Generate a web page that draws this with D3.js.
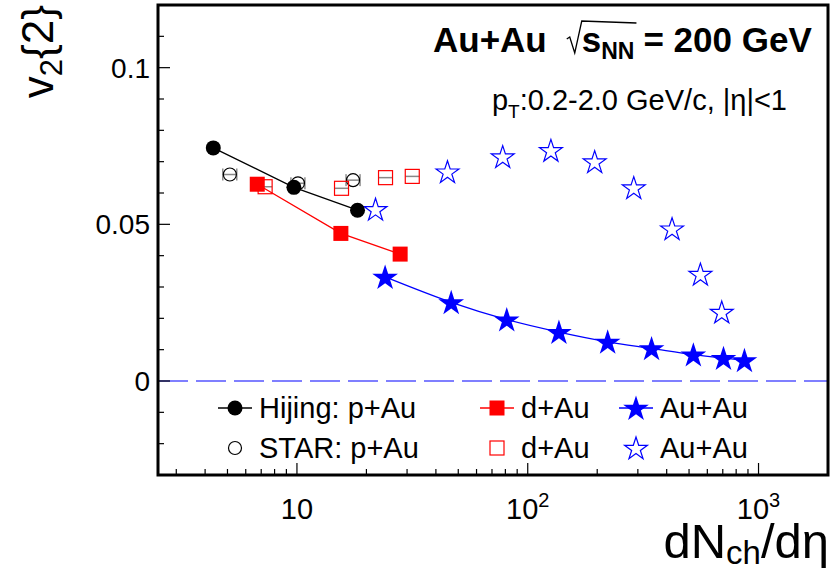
<!DOCTYPE html>
<html>
<head>
<meta charset="utf-8">
<script src="https://cdn.jsdelivr.net/npm/d3@7"></script>
<style>
  body { margin: 0; background: #fff; }
  text { font-family: "Liberation Sans", Arial, Helvetica, sans-serif; }
</style>
</head>
<body>
<div id="chart"></div>
<script>

// DATA  - - - - - - - - - - - - - - - - - - - - - - - - - - - - - - - - - - - - - - - - - - - -
// Hijing p+Au (filled circles, joined)
var hijingPAu_x = [4.34, 9.7, 18.3]
var hijingPAu_y = [0.0744, 0.0618, 0.0545]

// STAR p+Au (open circles)
var starPAu_x = [5.12, 10.1, 17.5]
var starPAu_y = [0.0659, 0.0631, 0.0641]

// Hijing d+Au (filled squares, joined)
var hijingDAu_x = [6.73, 15.5, 28.0]
var hijingDAu_y = [0.0628, 0.0471, 0.0405]

// STAR d+Au (open squares)
var starDAu_x = [7.28, 15.6, 24.2, 31.6]
var starDAu_y = [0.0620, 0.0615, 0.0649, 0.0653]

// Hijing Au+Au (filled stars, smooth curve)
var hijingAuAu_x = [24.1, 46.6, 81.1, 136.5, 222, 344, 522, 705, 869]
var hijingAuAu_y = [0.0332, 0.0251, 0.0196, 0.0156, 0.0125, 0.0104, 0.0084, 0.0073, 0.0066]

// STAR Au+Au (open stars)
var starAuAu_x = [21.9, 44.9, 77.9, 126, 195, 288, 422, 560, 693]
var starAuAu_y = [0.0548, 0.0668, 0.0716, 0.0736, 0.0700, 0.0617, 0.0486, 0.0341, 0.0220]

// Axis ticks
var yMajorTicks = [0, 0.05, 0.1]
var yTickLabels = ["0", "0.05", "0.1"]
var xMajorTicks = [10, 100, 1000]
var xTickExponents = ["", "2", "3"]

// Legend entries
var legendLabels = ["Hijing: p+Au", "d+Au", "Au+Au", "STAR: p+Au", "d+Au", "Au+Au"]

// SVG Canvas - - - - - - - - - - - - - - - - - - - - - - - - - - - - - - - - - - - - - - - - -
var svgWidth = 832
  , svgHeight = 573
  , frame = {left: 158, right: 828, top: 5, bottom: 475}

var svg = d3.select("#chart").append("svg")
    .attr("width", svgWidth)
    .attr("height", svgHeight)

var x = d3.scaleLog()
    .domain([2.5, 2000])
    .range([frame.left, frame.right])

var y = d3.scaleLinear()
    .domain([-0.03, 0.12])
    .range([frame.bottom, frame.top])

var BLUE = "#0000ff", RED = "#ff0000"

// zero line
svg.append("line")
    .attr("x1", frame.left).attr("x2", frame.right)
    .attr("y1", y(0)).attr("y2", y(0))
    .attr("stroke", BLUE)
    .attr("stroke-width", 1.2)
    .attr("stroke-dasharray", "30,8")

// Marker helpers - - - - - - - - - - - - - - - - - - - - - - - - - - - - - - - - - - - - - - -
var starPath = function(r) {
    return d3.symbol().type(d3.symbolStar).size(r * r / 0.8908)()
}

function drawMarker(g, type, cx, cy) {
    if (type == "fcircle") {
        g.append("circle").attr("cx", cx).attr("cy", cy).attr("r", 7.5).attr("fill", "#000")
    } else if (type == "ocircle") {
        g.append("circle").attr("cx", cx).attr("cy", cy).attr("r", 6.5)
            .attr("fill", "none").attr("stroke", "#000").attr("stroke-width", 1.2)
    } else if (type == "fsquare") {
        g.append("rect").attr("x", cx - 7.5).attr("y", cy - 7.5).attr("width", 15).attr("height", 15)
            .attr("fill", RED)
    } else if (type == "osquare") {
        g.append("rect").attr("x", cx - 7).attr("y", cy - 7).attr("width", 14).attr("height", 14)
            .attr("fill", "none").attr("stroke", RED).attr("stroke-width", 1.2)
    } else if (type == "fstar") {
        g.append("path").attr("d", starPath(13.5)).attr("transform", "translate(" + cx + "," + (cy + 1) + ")")
            .attr("fill", BLUE)
    } else if (type == "ostar") {
        g.append("path").attr("d", starPath(12)).attr("transform", "translate(" + cx + "," + (cy + 1) + ")")
            .attr("fill", "none").attr("stroke", BLUE).attr("stroke-width", 1.2)
    }
}

// small gray systematic bars on the STAR points
function drawSyst(g, cx, cy, half, caps) {
    g.append("line").attr("x1", cx - half).attr("x2", cx + half).attr("y1", cy).attr("y2", cy)
        .attr("stroke", "#888").attr("stroke-width", 1.5)
    if (caps) {
        [-1, 1].forEach(function(s) {
            g.append("line").attr("x1", cx + s * (half + 1)).attr("x2", cx + s * (half + 1))
                .attr("y1", cy - 6).attr("y2", cy + 6)
                .attr("stroke", "#555").attr("stroke-width", 1)
        })
    }
}

function zipPts(xs, ys) {
    return xs.map(function(d, i) { return [d, ys[i]] })
}

// Series - - - - - - - - - - - - - - - - - - - - - - - - - - - - - - - - - - - - - - - - - - -
var series = [
    {pts: zipPts(hijingPAu_x, hijingPAu_y), marker: "fcircle", line: "#000", curve: d3.curveLinear},
    {pts: zipPts(hijingDAu_x, hijingDAu_y), marker: "fsquare", line: RED, curve: d3.curveLinear},
    {pts: zipPts(hijingAuAu_x, hijingAuAu_y), marker: "fstar", line: BLUE, curve: d3.curveCatmullRom},
    {pts: zipPts(starPAu_x, starPAu_y), marker: "ocircle", syst: 6, caps: true},
    {pts: zipPts(starDAu_x, starDAu_y), marker: "osquare", syst: 7, caps: false},
    {pts: zipPts(starAuAu_x, starAuAu_y), marker: "ostar"}
]

var plot = svg.append("g")

series.forEach(function(s) {
    if (s.line) {
        var lineGen = d3.line()
            .x(function(d) { return x(d[0]) })
            .y(function(d) { return y(d[1]) })
            .curve(s.curve)
        plot.append("path").datum(s.pts)
            .attr("d", lineGen)
            .attr("fill", "none")
            .attr("stroke", s.line)
            .attr("stroke-width", 1.3)
    }
})

// draw STAR markers first, then Hijing on top
;[3, 4, 5, 0, 1, 2].forEach(function(k) {
    var s = series[k]
    s.pts.forEach(function(p) {
        if (s.syst) drawSyst(plot, x(p[0]), y(p[1]), s.syst, s.caps)
        drawMarker(plot, s.marker, x(p[0]), y(p[1]))
    })
})

// Axes - - - - - - - - - - - - - - - - - - - - - - - - - - - - - - - - - - - - - - - - - - - -
var axes = svg.append("g")

// y ticks (inside, on left frame)
d3.range(-0.03, 0.1201, 0.01).forEach(function(v) {
    var isMajor = Math.abs(v / 0.05 - Math.round(v / 0.05)) < 1e-6
    axes.append("line")
        .attr("x1", frame.left).attr("x2", frame.left + (isMajor ? 12 : 6))
        .attr("y1", y(v)).attr("y2", y(v))
        .attr("stroke", "#000").attr("stroke-width", 1.2)
})
yMajorTicks.forEach(function(v, i) {
    axes.append("text")
        .attr("x", frame.left - 8).attr("y", y(v))
        .attr("dy", "0.36em")
        .attr("text-anchor", "end")
        .attr("font-size", 28)
        .text(yTickLabels[i])
})

// x ticks (inside, on bottom frame)
var xMinor = []
;[1, 10, 100, 1000].forEach(function(dec) {
    d3.range(1, 10).forEach(function(m) {
        var v = dec * m
        if (v >= 2.5 && v <= 2000) xMinor.push(v)
    })
})
xMinor.forEach(function(v) {
    var isMajor = xMajorTicks.indexOf(v) >= 0
    axes.append("line")
        .attr("x1", x(v)).attr("x2", x(v))
        .attr("y1", frame.bottom).attr("y2", frame.bottom - (isMajor ? 12 : 6))
        .attr("stroke", "#000").attr("stroke-width", 1.2)
})
xMajorTicks.forEach(function(v, i) {
    var t = axes.append("text")
        .attr("x", x(v)).attr("y", 519)
        .attr("text-anchor", "middle")
        .attr("font-size", 29)
    t.append("tspan").text("10")
    if (xTickExponents[i]) {
        t.append("tspan").attr("dy", -12).attr("font-size", 20).text(xTickExponents[i])
    }
})

// frame
svg.append("rect")
    .attr("x", frame.left).attr("y", frame.top)
    .attr("width", frame.right - frame.left).attr("height", frame.bottom - frame.top)
    .attr("fill", "none").attr("stroke", "#000").attr("stroke-width", 3)

// axis titles
var yTitle = svg.append("text")
    .attr("transform", "translate(53,5) rotate(-90)")
    .attr("text-anchor", "end")
    .attr("font-size", 44)
yTitle.append("tspan").text("v")
yTitle.append("tspan").attr("dy", 9).attr("font-size", 31).text("2")
yTitle.append("tspan").attr("dy", -9).text("{2}")

var xTitle = svg.append("text")
    .attr("x", 829).attr("y", 558)
    .attr("text-anchor", "end")
    .attr("font-size", 49)
xTitle.append("tspan").text("dN")
xTitle.append("tspan").attr("dy", 6).attr("font-size", 33).text("ch")
xTitle.append("tspan").attr("dy", -6).text("/d\u03b7")

// Labels - - - - - - - - - - - - - - - - - - - - - - - - - - - - - - - - - - - - - - - - - - -
// title: Au+Au  sqrt(s_NN) = 200 GeV, pieces chained by measured width
var titleSize = 35, titleBase = 52
var title = svg.append("g").attr("font-weight", "bold")
var t1 = title.append("text").attr("x", 433).attr("y", titleBase).attr("font-size", titleSize).text("Au+Au")
var rx = 433 + t1.node().getComputedTextLength() + 20
var sText = title.append("text").attr("x", rx + 15).attr("y", titleBase).attr("font-size", titleSize)
sText.append("tspan").text("s")
sText.append("tspan").attr("dy", 7).attr("font-size", 23).text("NN")
var sEnd = rx + 15 + sText.node().getComputedTextLength()
title.append("path")
    .attr("d", "M" + rx + "," + (titleBase - 13) + " l3,-2 l5,16 l7,-32 L" + (sEnd + 2) + "," + (titleBase - 29))
    .attr("fill", "none").attr("stroke", "#000").attr("stroke-width", 1.3)
title.append("text").attr("x", sEnd + 9).attr("y", titleBase).attr("font-size", titleSize)
    .text("= 200 GeV")

var sub = svg.append("text").attr("x", 787).attr("y", 110).attr("text-anchor", "end").attr("font-size", 29)
sub.append("tspan").text("p")
sub.append("tspan").attr("dy", 8).attr("font-size", 19).text("T")
sub.append("tspan").attr("dy", -8).text(":0.2-2.0 GeV/c, |\u03b7|<1")

// Legend - - - - - - - - - - - - - - - - - - - - - - - - - - - - - - - - - - - - - - - - - - -
var legend = svg.append("g")
var legendCols = [235, 497, 636]
var legendRows = [408, 448]
var legendMarkers = ["fcircle", "fsquare", "fstar", "ocircle", "osquare", "ostar"]
var legendLines = ["#000", RED, BLUE, null, null, null]

legendLabels.forEach(function(lbl, i) {
    var cx = legendCols[i % 3], cy = legendRows[Math.floor(i / 3)]
    if (legendLines[i]) {
        legend.append("line")
            .attr("x1", cx - 17).attr("x2", cx + 17)
            .attr("y1", cy).attr("y2", cy)
            .attr("stroke", legendLines[i]).attr("stroke-width", 1.3)
    }
    drawMarker(legend, legendMarkers[i], cx, cy)
    legend.append("text")
        .attr("x", cx + 24).attr("y", cy)
        .attr("dy", "0.36em")
        .attr("font-size", 29)
        .text(lbl)
})

</script>
</body>
</html>
